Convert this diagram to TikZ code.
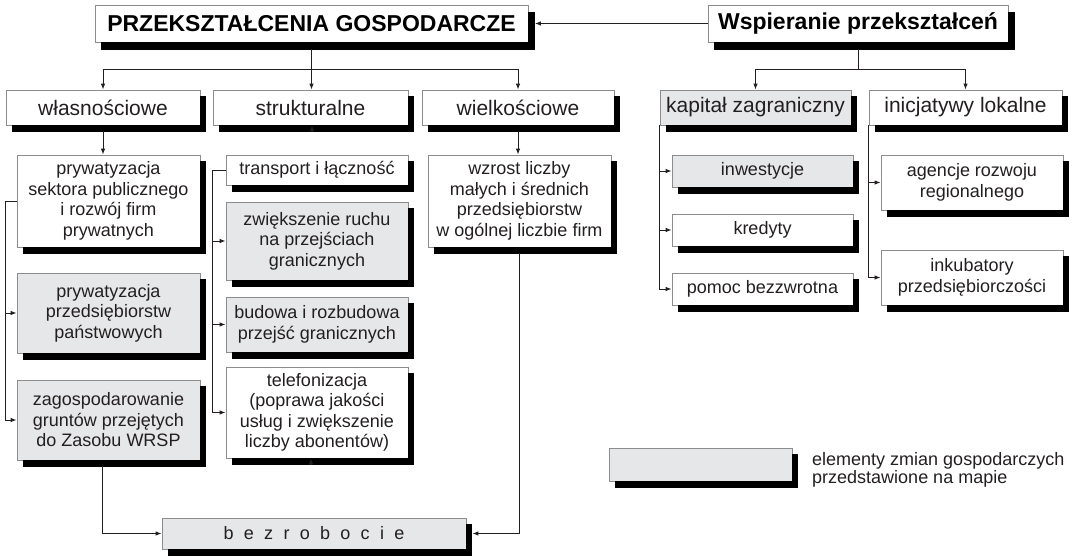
\documentclass[tikz,border=0pt]{standalone}
\usepackage{fontspec}
\setmainfont{Liberation Sans}
\usetikzlibrary{arrows.meta,calc}
\definecolor{boxgray}{RGB}{230,231,232}
\definecolor{inkc}{RGB}{35,31,32}
\definecolor{edgec}{RGB}{140,140,140}
\definecolor{shadowc}{RGB}{0,0,0}
\newcommand{\fbody}{\fontsize{18}{20.5}\selectfont}
\newcommand{\fsec}{\fontsize{21}{24}\selectfont}
\newcommand{\ftitle}{\fontsize{23}{26}\selectfont\bfseries}
\newcommand{\flegend}{\fontsize{18}{16.5}\selectfont}
% style, name, x1, x2, y1, y2, text ; shadow strips drawn outside the box
\newcommand{\mkbox}[7]{%
  \node[#1, minimum width={(#4-#3)*1pt}, minimum height={(#6-#5)*1pt}] (#2) at ({(#3+#4)/2},{(#5+#6)/2}) {#7};
  \fill[shadowc] ([yshift=-6.5pt]#2.north east) rectangle ([xshift=6pt,yshift=-6.5pt]#2.south east);
  \fill[shadowc] ([xshift=6pt]#2.south west) rectangle ([xshift=6pt,yshift=-6.5pt]#2.south east);}
\newcommand{\mktbox}[7]{%
  \node[#1, minimum width={(#4-#3)*1pt}, minimum height={(#6-#5)*1pt}] (#2) at ({(#3+#4)/2},{(#5+#6)/2}) {#7};
  \fill[shadowc] ([yshift=-7.5pt]#2.north east) rectangle ([xshift=6.5pt,yshift=-7.5pt]#2.south east);
  \fill[shadowc] ([xshift=6.5pt]#2.south west) rectangle ([xshift=6.5pt,yshift=-7.5pt]#2.south east);}
\begin{document}
\begin{tikzpicture}[x=1pt,y=-1pt,
  base/.style={draw=edgec, line width=0.8pt, fill=white, inner sep=0pt, align=center, text=inkc},
  bx/.style={base, font=\fbody},
  gbx/.style={bx, fill=boxgray},
  sbx/.style={bx, font=\fsec},
  gsbx/.style={sbx, fill=boxgray},
  tbx/.style={base, font=\ftitle, text=black},
  conn/.style={draw=inkc, line width=0.9pt},
  arr/.style={conn, -{Latex[length=6pt,width=4.5pt]}}]
\useasboundingbox (0,0) rectangle (1078,556);
% titles
\mktbox{tbx}{t1}{95}{528}{5}{42}{PRZEKSZTAŁCENIA GOSPODARCZE}
\mktbox{tbx}{t2}{708}{1008}{5}{42}{Wspieranie przekształceń}
% second row
\mkbox{sbx}{wl}{6}{200}{90}{125}{własnościowe}
\mkbox{sbx}{st}{213}{408}{90}{125}{strukturalne}
\mkbox{sbx}{wi}{422}{614}{90}{125}{wielkościowe}
\mkbox{gsbx}{kz}{660}{851}{90}{125}{kapitał zagraniczny}
\mkbox{sbx}{il}{869}{1062}{90}{125}{inicjatywy lokalne}
% własnościowe column
\mkbox{bx}{p1}{17}{200}{155}{247}{prywatyzacja\\sektora publicznego\\i rozwój firm\\prywatnych}
\mkbox{gbx}{p2}{17}{200}{273}{353}{prywatyzacja\\przedsiębiorstw\\państwowych}
\mkbox{gbx}{p3}{17}{200}{380}{460}{zagospodarowanie\\gruntów przejętych\\do Zasobu WRSP}
% strukturalne column
\mkbox{bx}{tr}{226}{408}{155}{185}{transport i łączność}
\mkbox{gbx}{zw}{226}{408}{202}{280}{zwiększenie ruchu\\na przejściach\\granicznych}
\mkbox{gbx}{bu}{226}{408}{297}{352}{budowa i rozbudowa\\przejść granicznych}
\mkbox{bx}{te}{226}{408}{367}{458}{telefonizacja\\(poprawa jakości\\usług i zwiększenie\\liczby abonentów)}
% wielkościowe column
\mkbox{bx}{wz}{428}{611}{155}{247}{wzrost liczby\\małych i średnich\\przedsiębiorstw\\w ogólnej liczbie firm}
% bezrobocie
\mkbox{gbx}{bez}{162}{466}{518}{549}{b\hspace{10.3pt}e\hspace{10.3pt}z\hspace{10.3pt}r\hspace{10.3pt}o\hspace{10.3pt}b\hspace{10.3pt}o\hspace{10.3pt}c\hspace{10.3pt}i\hspace{10.3pt}e}
% kapitał column
\mkbox{gbx}{in}{672}{853}{155}{187}{inwestycje}
\mkbox{bx}{kr}{672}{853}{214}{246}{kredyty}
\mkbox{bx}{po}{672}{853}{273}{305}{pomoc bezzwrotna}
% inicjatywy column
\mkbox{bx}{ag}{881}{1063}{155}{210}{agencje rozwoju\\regionalnego}
\mkbox{bx}{ink}{881}{1063}{250}{305}{inkubatory\\przedsiębiorczości}
% legend
\mkbox{gbx}{leg}{609}{792}{448}{481}{}
\node[anchor=west, align=left, inner sep=0pt, font=\flegend, text=inkc] (legt) at (812,470) {elementy zmian gospodarczych\\przedstawione na mapie};
% connectors: titles
\draw[arr] (t2.west) -- ($(t1.east)+(6.5,0)$);
\coordinate (j1) at ($(t1.south)+(0,27)$);
\draw[arr] ($(t1.south)+(0,7)$) -- (t1.south |- wl.north);
\draw[arr] (j1) -| (wl.north);
\draw[arr] (j1) -| (wi.north);
\coordinate (j2) at ($(t2.south)+(0,27)$);
\draw[conn] ($(t2.south)+(0,7)$) -- (j2);
\draw[arr] (j2) -| (kz.north);
\draw[arr] (j2) -| (il.north);
% własnościowe
\draw[arr] ($(wl.south)+(0,6)$) -- (wl.south |- p1.north);
\coordinate (b1) at ($(p1.west)+(-11,0)$);
\draw[arr] (p1.west) -- (b1) |- (p3.west);
\draw[arr] (b1 |- p2.west) -- (p2.west);
\draw[arr] ($(p3.south)+(-6,6)$) |- (bez.west);
% strukturalne
\draw[arr] ($(st.south)+(1.5,6)$) -- ($(st.south)+(1.5,0)$ |- tr.north);
\coordinate (b2) at ($(tr.west)+(-13,0)$);
\draw[arr] (tr.west) -- (b2) |- (te.west);
\draw[arr] (b2 |- zw.west) -- (zw.west);
\draw[arr] (b2 |- bu.west) -- (bu.west);
\draw[arr] ($(te.south)+(-6,6)$) -- ($(te.south)+(-6,0)$ |- bez.north);
% wielkościowe
\draw[arr] ($(wi.south)+(0,6)$) -- (wi.south |- wz.north);
\draw[arr] ($(wz.south)+(0,6)$) |- ($(bez.east)+(6,0)$);
% kapitał
\draw[arr] (kz.south west) |- (po.west);
\draw[arr] (kz.south west |- in.west) -- (in.west);
\draw[arr] (kz.south west |- kr.west) -- (kr.west);
% inicjatywy
\draw[arr] (il.south west) |- (ink.west);
\draw[arr] (il.south west |- ag.west) -- (ag.west);
\end{tikzpicture}
\end{document}
